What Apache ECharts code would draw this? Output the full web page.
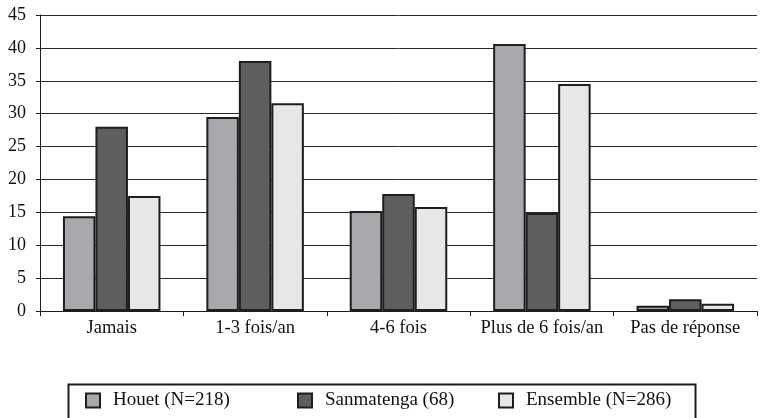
<!DOCTYPE html>
<html>
<head>
<meta charset="utf-8">
<script src="https://cdn.jsdelivr.net/npm/echarts@6/dist/echarts.min.js"></script>
<style>
  html, body { margin: 0; padding: 0; background: #fff; }
  #chart { width: 760px; height: 418px; }
</style>
</head>
<body>
<div id="chart"></div>
<script>
// categories on the x axis
var categories = ['Jamais', '1-3 fois/an', '4-6 fois', 'Plus de 6 fois/an', 'Pas de réponse'];
// percentages per zone
var houet = [14.4, 29.5, 15.2, 40.6, 0.8];
var sanmatenga = [28.0, 38.0, 17.8, 14.9, 1.8];
var ensemble = [17.5, 31.6, 15.8, 34.5, 1.1];
var seriesNames = ['Houet (N=218)', 'Sanmatenga (68)', 'Ensemble (N=286)'];
var colors = ['#a7a9ac', '#5d5e60', '#e6e7e8'];

var font = 'Liberation Serif';
var legendLefts = [85, 297, 498];

function bar(name, data, color) {
    return {
        name: name,
        type: 'bar',
        data: data,
        barGap: '0%',
        barCategoryGap: '32%',
        itemStyle: { color: color, borderColor: '#1e1e1e', borderWidth: 2 }
    };
}

// one legend per entry so each sits in its own column of the framed box
var legends = seriesNames.map(function (name, i) {
    return {
        data: [name],
        left: legendLefts[i],
        top: 391,
        padding: 0,
        itemWidth: 14,
        itemHeight: 14,
        icon: 'rect',
        textStyle: { fontFamily: font, fontSize: 19, color: '#111', padding: [0, 0, 0, 8] }
    };
});

var chart = echarts.init(document.getElementById('chart'));
chart.setOption({
    animation: false,
    color: colors,
    textStyle: { fontFamily: font },
    grid: { left: 40, right: 3, top: 15, bottom: 107, containLabel: false },
    legend: legends,
    graphic: [{
        type: 'rect',
        left: 66,
        top: 382,
        shape: { width: 627, height: 50 },
        style: { fill: 'none', stroke: '#1e1e1e', lineWidth: 2 },
        silent: true
    }],
    xAxis: {
        type: 'category',
        data: categories,
        axisLine: { lineStyle: { color: '#1e1e1e', width: 1 } },
        axisTick: { show: true, interval: 0, length: 5, lineStyle: { color: '#1e1e1e' } },
        axisLabel: { interval: 0, hideOverlap: false, fontFamily: font, fontSize: 18.5, color: '#111', margin: 8 }
    },
    yAxis: {
        type: 'value',
        min: 0,
        max: 45,
        interval: 5,
        axisLine: { show: true, lineStyle: { color: '#1e1e1e', width: 1 } },
        axisTick: { show: true, length: 4, lineStyle: { color: '#1e1e1e' } },
        axisLabel: { fontFamily: font, fontSize: 18, color: '#111', margin: 14 },
        splitLine: { lineStyle: { color: '#2a2a2a', width: 1 } }
    },
    series: [
        bar(seriesNames[0], houet, colors[0]),
        bar(seriesNames[1], sanmatenga, colors[1]),
        bar(seriesNames[2], ensemble, colors[2])
    ]
});
</script>
</body>
</html>
